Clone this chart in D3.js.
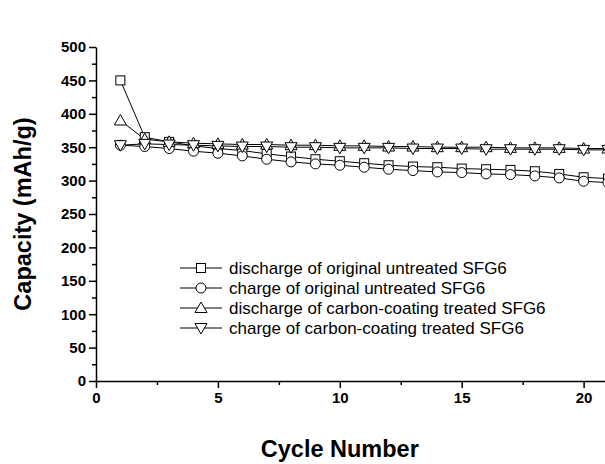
<!DOCTYPE html>
<html>
<head>
<meta charset="utf-8">
<script src="https://cdn.jsdelivr.net/npm/d3@7"></script>
<style>
  body { margin: 0; background: #fff; }
  svg { display: block; font-family: Arial, "Liberation Sans", sans-serif; }
  .axis text { font-size: 15px; font-weight: bold; fill: #000; }
  .axis path, .axis line { stroke: #000; stroke-width: 1.5; }
</style>
</head>
<body>
<svg id="chart" width="605" height="464"></svg>
<script>
const cycles = d3.range(1, 22);

const dischargeOriginal = [450, 365, 358, 352, 348, 345, 340, 336, 332, 329, 326, 323, 321, 320, 318, 317, 316, 314, 310, 305, 303];
const chargeOriginal = [353, 351, 348, 344, 341, 337, 332, 328, 325, 323, 320, 317, 315, 313, 312, 310, 309, 307, 304, 299, 297];
const dischargeCoated = [390, 362, 358, 356, 355, 354, 354, 353, 353, 352, 352, 351, 351, 350, 350, 350, 349, 349, 349, 348, 348];
const chargeCoated = [353, 355, 354, 353, 352, 351, 351, 350, 350, 349, 349, 349, 348, 348, 348, 347, 347, 347, 347, 346, 346];

const seriesNames = [
  'discharge of original untreated SFG6',
  'charge of original untreated SFG6',
  'discharge of carbon-coating treated SFG6',
  'charge of carbon-coating treated SFG6'
];
const seriesSymbols = ['square', 'circle', 'up', 'down'];

const xTicks = [0, 5, 10, 15, 20];
const yTicks = [0, 50, 100, 150, 200, 250, 300, 350, 400, 450, 500];

const svg = d3.select('#chart'),
  margin = { top: 47, right: -3, bottom: 83, left: 96 };
const width = 605 - margin.left - margin.right,
  height = 464 - margin.top - margin.bottom;

const g = svg.append('g')
  .attr('transform', `translate(${margin.left},${margin.top})`);

const x = d3.scaleLinear().domain([0, 21]).range([0, width]);
const y = d3.scaleLinear().domain([0, 500]).range([height, 0]);

// minor ticks
g.append('g')
  .attr('class', 'axis')
  .attr('transform', `translate(0,${height})`)
  .call(d3.axisBottom(x).tickValues([2.5, 7.5, 12.5, 17.5]).tickSize(4).tickFormat(''))
  .call(a => a.select('.domain').remove());
g.append('g')
  .attr('class', 'axis')
  .call(d3.axisLeft(y).tickValues(d3.range(25, 500, 50)).tickSize(4).tickFormat(''))
  .call(a => a.select('.domain').remove());

g.append('g')
  .attr('class', 'axis')
  .attr('transform', `translate(0,${height})`)
  .call(d3.axisBottom(x).tickValues(xTicks).tickSize(7).tickSizeOuter(0).tickPadding(4));

g.append('g')
  .attr('class', 'axis')
  .call(d3.axisLeft(y).tickValues(yTicks).tickSize(7).tickSizeOuter(0).tickPadding(3));

svg.append('text')
  .attr('x', margin.left + x(10))
  .attr('y', 457)
  .attr('text-anchor', 'middle')
  .style('font-size', '23.5px')
  .style('font-weight', 'bold')
  .text('Cycle Number');

svg.append('text')
  .attr('transform', `translate(31,${margin.top + height / 2}) rotate(-90)`)
  .attr('text-anchor', 'middle')
  .style('font-size', '23.5px')
  .style('font-weight', 'bold')
  .text('Capacity (mAh/g)');

function drawSymbol(sel, type) {
  if (type === 'square') {
    sel.append('rect').attr('x', -4.5).attr('y', -4.5).attr('width', 9).attr('height', 9);
  } else if (type === 'circle') {
    sel.append('circle').attr('r', 5);
  } else if (type === 'up') {
    sel.append('path').attr('d', 'M0,-6L6,4.5L-6,4.5Z');
  } else {
    sel.append('path').attr('d', 'M0,6L6,-4.5L-6,-4.5Z');
  }
  sel.selectAll('*').attr('fill', '#fff').attr('stroke', '#000').attr('stroke-width', 1);
}

const allSeries = [dischargeOriginal, chargeOriginal, dischargeCoated, chargeCoated];

const line = d3.line()
  .x((d, i) => x(cycles[i]))
  .y(d => y(d));

const plot = g.append('g');

allSeries.forEach(values => {
  plot.append('path')
    .attr('d', line(values))
    .attr('fill', 'none')
    .attr('stroke', '#000')
    .attr('stroke-width', 1);
});

allSeries.forEach((values, k) => {
  plot.selectAll(null)
    .data(values)
    .enter().append('g')
    .attr('transform', (d, i) => `translate(${x(cycles[i])},${y(d)})`)
    .each(function() { drawSymbol(d3.select(this), seriesSymbols[k]); });
});

// legend
const legend = svg.append('g').attr('transform', 'translate(180,268)');
seriesNames.forEach((name, k) => {
  const row = legend.append('g').attr('transform', `translate(0,${k * 20})`);
  row.append('line')
    .attr('x1', 0).attr('x2', 42)
    .attr('stroke', '#000').attr('stroke-width', 1);
  const sym = row.append('g').attr('transform', 'translate(21,0)');
  drawSymbol(sym, seriesSymbols[k]);
  row.append('text')
    .attr('x', 49)
    .attr('dy', '0.36em')
    .style('font-size', '17px')
    .text(name);
});
</script>
</body>
</html>
